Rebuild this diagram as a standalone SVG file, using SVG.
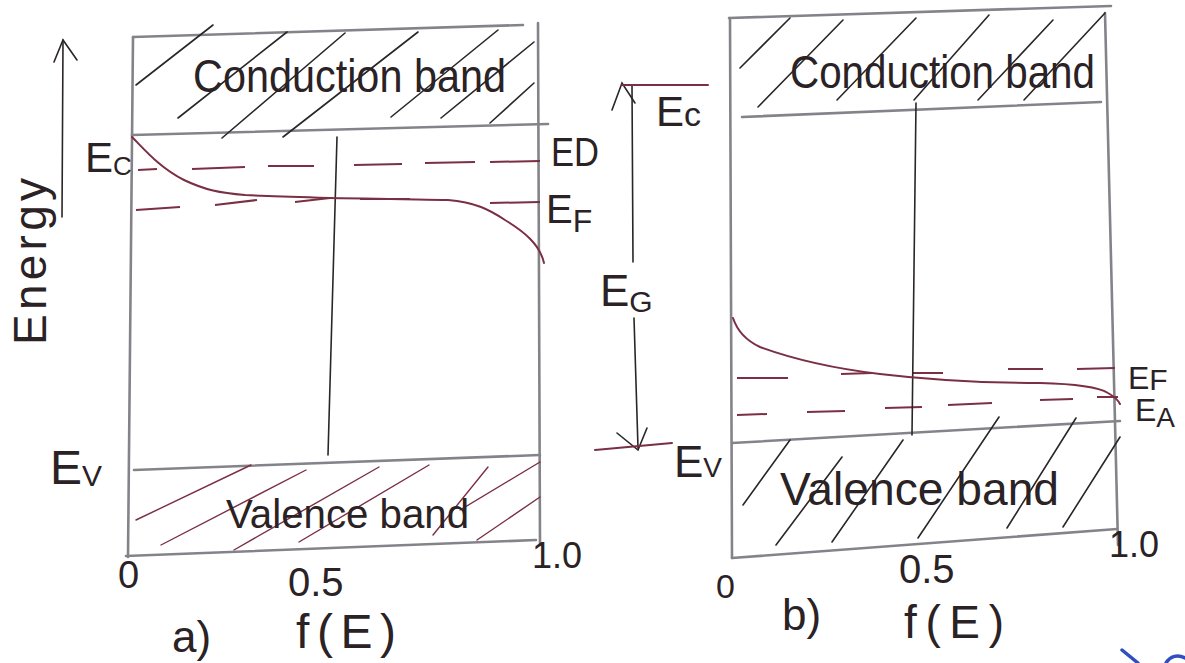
<svg xmlns="http://www.w3.org/2000/svg" width="1185" height="663" viewBox="0 0 1185 663">
<style>
.frame{stroke:#85838a;stroke-width:2.6;fill:none;stroke-linecap:round}
.ink{stroke:#2a2628;stroke-width:1.6;fill:none;stroke-linecap:round}
.red{stroke:#7a2f44;stroke-width:2;fill:none;stroke-linecap:round}
.dash{stroke:#7a2f44;stroke-width:2;fill:none}
.hatchr{stroke:#7a2f44;stroke-width:1.4;fill:none;stroke-linecap:round}
.t{font-family:"Liberation Sans","DejaVu Sans",sans-serif;fill:#2a2224}
</style>
<rect width="1185" height="663" fill="#ffffff"/>

<!-- Energy axis -->
<g id="energy-axis">
<line class="ink" x1="63" y1="40" x2="62" y2="217"/>
<polyline class="ink" points="54,62 63,40 77,60"/>
<text class="t" font-size="46" transform="translate(46,345) rotate(-90)" textLength="167" lengthAdjust="spacing">Energy</text>
</g>

<!-- Panel a -->
<g id="panel-a">
<g id="a-frame">
<line class="frame" x1="133" y1="37" x2="128" y2="557"/>
<line class="frame" x1="133" y1="37" x2="523" y2="25"/>
<line class="frame" x1="538" y1="23" x2="540" y2="545"/>
<line class="frame" x1="132" y1="135" x2="548" y2="124"/>
<line class="frame" x1="134" y1="470" x2="540" y2="455"/>
<line class="frame" x1="126" y1="556" x2="536" y2="540"/>
</g>
<g id="a-conduction-band">
<g class="ink">
<line x1="136" y1="85" x2="213" y2="25"/>
<line x1="178" y1="118" x2="287" y2="32"/>
<line x1="222" y1="138" x2="345" y2="33"/>
<line x1="283" y1="137" x2="418" y2="32"/>
<line x1="391" y1="117" x2="498" y2="30"/>
<line x1="441" y1="118" x2="534" y2="42"/>
<line x1="490" y1="123" x2="534" y2="83"/>
</g>
<text class="t" x="193" y="92" font-size="46" textLength="313" lengthAdjust="spacingAndGlyphs">Conduction band</text>
</g>
<g id="a-valence-band">
<g class="hatchr">
<line x1="136" y1="520" x2="251" y2="465"/>
<line x1="161" y1="545" x2="306" y2="470"/>
<line x1="234" y1="550" x2="379" y2="467"/>
<line x1="299" y1="542" x2="429" y2="465"/>
<line x1="433" y1="535" x2="488" y2="467"/>
<line x1="460" y1="510" x2="540" y2="462"/>
<line x1="477" y1="540" x2="540" y2="497"/>
</g>
<text class="t" x="226" y="528" font-size="40" textLength="243" lengthAdjust="spacingAndGlyphs">Valence band</text>
</g>
<g id="a-levels">
<path class="dash" d="M138,170 L157,169 M192,169 L245,167 M268,166 L314,166 M354,165 L402,164 M425,163 L475,162 M490,162 L540,161"/>
<path class="dash" d="M136,210 L180,207 M215,205 L257,200 M295,202 L330,198 M360,199 L410,199 M490,203 L540,202"/>
</g>
<line id="a-half" class="ink" x1="337" y1="137" x2="328" y2="455"/>
<path id="a-fermi" class="red" d="M132,137 C145,150 160,168 184,180 C205,190 220,193 245,195 C300,198 390,199 448,200 C475,202 490,210 505,220 C525,232 540,245 544,263"/>
<g id="a-labels">
<text class="t" x="85" y="172" font-size="42">E<tspan font-size="26" dy="3">C</tspan></text>
<text class="t" x="551" y="166" font-size="40" textLength="48" lengthAdjust="spacingAndGlyphs">ED</text>
<text class="t" x="546" y="223" font-size="40">E<tspan font-size="32" dy="9">F</tspan></text>
<text class="t" x="50" y="484" font-size="48">E<tspan font-size="30" dy="2">V</tspan></text>
<text class="t" x="118" y="588" font-size="38">0</text>
<text class="t" x="288" y="596" font-size="40">0.5</text>
<text class="t" x="532" y="568" font-size="36">1.0</text>
<text class="t" x="172" y="652" font-size="44">a)</text>
<text class="t" x="296" y="648" font-size="48" textLength="100" lengthAdjust="spacing">f(E)</text>
</g>
</g>

<!-- Panel b -->
<g id="panel-b">
<g id="b-frame">
<line class="frame" x1="730" y1="18" x2="732" y2="558"/>
<line class="frame" x1="729" y1="18" x2="1111" y2="6"/>
<line class="frame" x1="1105" y1="13" x2="1118" y2="545"/>
<line class="frame" x1="742" y1="117" x2="1101" y2="102"/>
<line class="frame" x1="732" y1="443" x2="1120" y2="421"/>
<line class="frame" x1="732" y1="558" x2="1117" y2="529"/>
</g>
<g id="b-conduction-band">
<g class="ink">
<line x1="740" y1="68" x2="790" y2="18"/>
<line x1="758" y1="107" x2="843" y2="20"/>
<line x1="837" y1="100" x2="916" y2="18"/>
<line x1="914" y1="100" x2="989" y2="15"/>
<line x1="978" y1="100" x2="1053" y2="20"/>
<line x1="1024" y1="100" x2="1105" y2="13"/>
</g>
<text class="t" x="790" y="88" font-size="46" textLength="305" lengthAdjust="spacingAndGlyphs">Conduction band</text>
</g>
<g id="b-valence-band">
<g class="ink">
<line x1="743" y1="505" x2="790" y2="440"/>
<line x1="776" y1="545" x2="842" y2="457"/>
<line x1="832" y1="542" x2="903" y2="440"/>
<line x1="918" y1="538" x2="999" y2="417"/>
<line x1="1007" y1="528" x2="1076" y2="418"/>
<line x1="1063" y1="527" x2="1120" y2="437"/>
</g>
<text class="t" x="780" y="505" font-size="46" textLength="279" lengthAdjust="spacingAndGlyphs">Valence band</text>
</g>
<g id="b-levels">
<path class="dash" d="M737,378 L788,378 M841,374 L872,373 M913,373 L943,373 M1008,369 L1043,369 M1077,369 L1115,368"/>
<path class="dash" d="M737,415 L767,414 M807,412 L845,411 M885,408 L922,407 M948,405 L992,403 M1040,400 L1073,399 M1097,397 L1118,397"/>
</g>
<line id="b-half" class="ink" x1="916" y1="103" x2="912" y2="435"/>
<path id="b-fermi" class="red" d="M733,318 C737,330 745,340 760,347 C790,358 830,368 880,374 C930,380 990,383 1040,383 C1080,384 1100,388 1108,393 C1115,397 1118,400 1120,404"/>
<g id="b-gap-arrow">
<line class="ink" x1="632" y1="85" x2="633" y2="262"/>
<line class="ink" x1="634" y1="318" x2="638" y2="448"/>
<polyline class="ink" points="612,110 622,83 635,103"/>
<polyline class="ink" points="617,433 638,450 647,428"/>
<line class="red" x1="622" y1="85" x2="708" y2="85"/>
<line class="red" x1="595" y1="450" x2="672" y2="443"/>
</g>
<g id="b-labels">
<text class="t" x="656" y="126" font-size="42">E<tspan font-size="34">c</tspan></text>
<text class="t" x="600" y="306" font-size="44">E<tspan font-size="30" dy="6">G</tspan></text>
<text class="t" x="674" y="477" font-size="44">E<tspan font-size="28" dy="0">V</tspan></text>
<text class="t" x="1128" y="389" font-size="32">E<tspan font-size="30" dy="1">F</tspan></text>
<text class="t" x="1135" y="421" font-size="32">E<tspan font-size="28" dy="6">A</tspan></text>
<text class="t" x="716" y="598" font-size="34">0</text>
<text class="t" x="899" y="583" font-size="40">0.5</text>
<text class="t" x="1109" y="557" font-size="36">1.0</text>
<text class="t" x="782" y="630" font-size="44">b)</text>
<text class="t" x="904" y="638" font-size="46" textLength="100" lengthAdjust="spacing">f(E)</text>
</g>
</g>

<!-- stray blue pen marks -->
<g id="blue-marks" stroke="#2f4fc0" stroke-width="3.5" fill="none" stroke-linecap="round">
<line x1="1122" y1="650" x2="1138" y2="663"/>
<path d="M1166,663 C1170,656 1178,654 1185,658"/>
</g>
</svg>
